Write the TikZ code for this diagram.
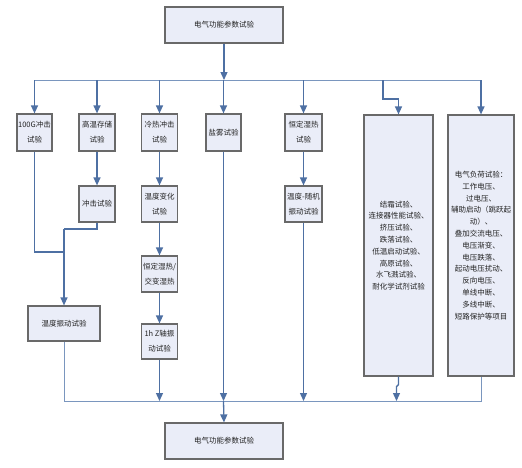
\documentclass[tikz,border=0pt]{standalone}
\usepackage{fontspec}
\newfontfamily\cjk{Noto Sans CJK SC}
\usetikzlibrary{arrows.meta}
\definecolor{boxfill}{RGB}{234,237,248}
\definecolor{boxline}{RGB}{105,105,105}
\definecolor{arrcol}{RGB}{78,112,163}
\definecolor{buscol}{RGB}{122,150,190}
\definecolor{txt}{RGB}{35,35,35}
\begin{document}
\begin{tikzpicture}[x=1pt,y=-1pt,
 box/.style={draw=boxline,fill=boxfill,line width=1.2pt,inner sep=0pt,align=center,font=\cjk\fontsize{7.5}{15}\selectfont,text=txt},
 tallbox/.style={box,font=\cjk\fontsize{7.5}{11.8}\selectfont},
 arr/.style={draw=arrcol,line width=1.3pt,-{Triangle[width=7pt,length=8pt]}},
 conn/.style={draw=arrcol,line width=1.3pt},
 bus/.style={draw=buscol,line width=1pt}]
\useasboundingbox[fill=white] (0,0) rectangle (522,467);

% boxes
\node[box,minimum width=118pt,minimum height=36pt] (top) at (224,25) {电气功能参数试验};
\node[box,minimum width=35pt,minimum height=37pt] (b100) at (34.5,132.5) {100G冲击\\试验};
\node[box,minimum width=36pt,minimum height=37pt] (bgw) at (97,132.5) {高温存储\\试验};
\node[box,minimum width=36pt,minimum height=37pt] (blr) at (159.5,132.5) {冷热冲击\\试验};
\node[box,minimum width=35pt,minimum height=37pt] (bym) at (223.5,132.5) {盐雾试验};
\node[box,minimum width=37pt,minimum height=37pt] (bhd) at (303.5,132.5) {恒定湿热\\试验};
\node[tallbox,minimum width=69pt,minimum height=261pt] (tall1) at (398.5,245.5)
 {结霜试验、\\连接器性能试验、\\挤压试验、\\跌落试验、\\低温启动试验、\\高原试验、\\水飞溅试验、\\耐化学试剂试验};
\node[tallbox,minimum width=66pt,minimum height=261pt] (tall2) at (481,245.5)
 {电气负荷试验：\\工作电压、\\过电压、\\辅助启动（跳跃起\\动）、\\叠加交流电压、\\电压渐变、\\电压跌落、\\起动电压扰动、\\反向电压、\\单线中断、\\多线中断、\\短路保护等项目};
\node[box,minimum width=36pt,minimum height=36pt] (bcj) at (97,204) {冲击试验};
\node[box,minimum width=36pt,minimum height=36pt] (bwb) at (159.5,204) {温度变化\\试验};
\node[box,minimum width=37pt,minimum height=36pt] (bwz) at (303.5,204) {温度-随机\\振动试验};
\node[box,minimum width=36pt,minimum height=36pt] (bhj) at (159.5,274) {恒定湿热/\\交变湿热};
\node[box,minimum width=36pt,minimum height=35pt] (bz) at (159.5,341.5) {1h Z轴振\\动试验};
\node[box,minimum width=72pt,minimum height=35pt] (bwd) at (64,323.5) {温度振动试验};
\node[box,minimum width=118pt,minimum height=36pt] (bot) at (224,441) {电气功能参数试验};

% top bus
\coordinate (busL) at (34.5,80);
\coordinate (busR) at (481,80);
\coordinate (j1) at (383,80);
\draw[bus] (busL) -- (busR);
\draw[arr] (top.south) -- (top.south |- busL);
\foreach \n in {b100,bgw,blr,bym,bhd,tall2}
  \draw[arr] (\n.north |- busL) -- (\n.north);
\draw[arr] (j1) -- (383,99) -| (tall1.north);

% left side
\coordinate (m1) at (64,229);
\coordinate (m2) at (64,252);
\draw[arr] (bgw.south) -- (bcj.north);
\draw[conn] (b100.south) -- (b100.south |- m2) -- (m2);
\draw[conn] (bcj.south) -- (bcj.south |- m1) -- (m1);
\draw[arr] (m1) -- (bwd.north);

% middle chains
\draw[arr] (blr.south) -- (bwb.north);
\draw[arr] (bwb.south) -- (bhj.north);
\draw[arr] (bhj.south) -- (bz.north);
\draw[arr] (bhd.south) -- (bwz.north);

% bottom bus
\coordinate (bbL) at (64,401);
\coordinate (bbR) at (481,401);
\draw[bus] (bwd.south) -- (bbL) -- (bbR) -- (tall2.south);
\draw[arr] (bz.south) -- (bz.south |- bbL);
\draw[arr] (bym.south) -- (bym.south |- bbL);
\draw[arr] (bwz.south) -- (bwz.south |- bbL);
\draw[arr] (tall1.south) -- ++(0,8) -- ++(-2,2) -- (396.5,401);
\draw[arr] (bym.south |- bbL) -- (bot.north);
\end{tikzpicture}
\end{document}
